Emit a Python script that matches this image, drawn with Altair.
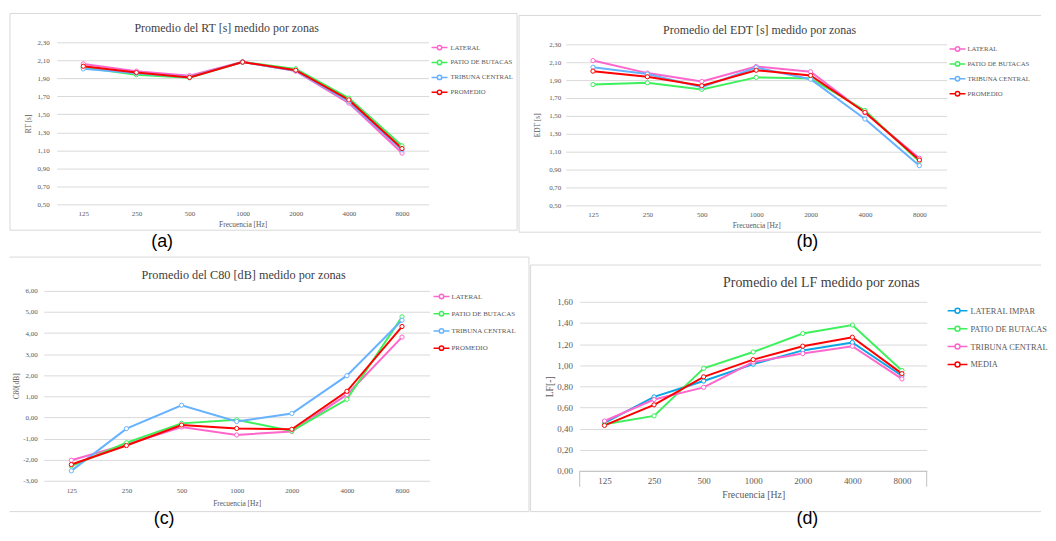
import altair as alt
import pandas as pd

FRECUENCIAS = ["125", "250", "500", "1000", "2000", "4000", "8000"]

ZONAS_ABC = ["LATERAL", "PATIO DE BUTACAS", "TRIBUNA CENTRAL", "PROMEDIO"]
ZONAS_D = ["LATERAL IMPAR", "PATIO DE BUTACAS", "TRIBUNA CENTRAL", "MEDIA"]

# (a) RT [s]
RT_LATERAL = [2.06, 1.98, 1.93, 2.085, 1.98, 1.625, 1.07]
RT_PATIO = [2.02, 1.94, 1.905, 2.08, 2.005, 1.68, 1.15]
RT_TRIBUNA = [2.005, 1.957, 1.915, 2.08, 1.985, 1.64, 1.105]
RT_PROMEDIO = [2.034, 1.964, 1.91, 2.08, 1.99, 1.66, 1.12]

# (b) EDT [s]
EDT_LATERAL = [2.118, 1.978, 1.885, 2.052, 1.993, 1.535, 1.026]
EDT_PATIO = [1.85, 1.87, 1.796, 1.93, 1.918, 1.56, 0.99]
EDT_TRIBUNA = [2.044, 1.967, 1.82, 2.04, 1.91, 1.465, 0.944]
EDT_PROMEDIO = [2.0, 1.937, 1.837, 2.01, 1.952, 1.54, 1.007]

# (c) C80 [dB]
C80_LATERAL = [-2.03, -1.28, -0.45, -0.83, -0.66, 1.08, 3.81]
C80_PATIO = [-2.3, -1.2, -0.28, -0.11, -0.64, 0.86, 4.77]
C80_TRIBUNA = [-2.53, -0.53, 0.58, -0.19, 0.19, 1.98, 4.61]
C80_PROMEDIO = [-2.23, -1.33, -0.36, -0.52, -0.56, 1.24, 4.31]

# (d) LF [-]
LF_LATERAL_IMPAR = [0.455, 0.70, 0.85, 1.01, 1.14, 1.215, 0.90]
LF_PATIO = [0.44, 0.52, 0.97, 1.125, 1.30, 1.38, 0.95]
LF_TRIBUNA = [0.472, 0.675, 0.79, 1.03, 1.11, 1.18, 0.87]
LF_MEDIA = [0.43, 0.625, 0.89, 1.053, 1.18, 1.265, 0.92]

TICKS_RT = [0.5, 0.7, 0.9, 1.1, 1.3, 1.5, 1.7, 1.9, 2.1, 2.3]
TICKS_C80 = [-3, -2, -1, 0, 1, 2, 3, 4, 5, 6]
TICKS_LF = [0.0, 0.2, 0.4, 0.6, 0.8, 1.0, 1.2, 1.4, 1.6]

COLORES_ABC = ["#ff66cc", "#3df05c", "#66b2ff", "#ff0000"]
COLORES_D = ["#0aa5e6", "#3df05c", "#ff66cc", "#ff0000"]

FRAME = "#d9d9d9"
SERIF = "Liberation Serif"
LBL = "replace(replace(format(datum.value, '.2f'), '.', ','), '\u2212', '-')"
ONE = pd.DataFrame({"k": [0]})


def hrule(y, x1, x2, color=FRAME, opacity=1.0):
    return alt.Chart(ONE).mark_rule(color=color, strokeWidth=1, opacity=opacity).encode(
        x=alt.value(x1), x2=alt.value(x2), y=alt.value(y))


def vrule(x, y1, y2, color=FRAME, opacity=1.0):
    return alt.Chart(ONE).mark_rule(color=color, strokeWidth=1, opacity=opacity).encode(
        x=alt.value(x), y=alt.value(y1), y2=alt.value(y2))


def label(text, x, y, size, font=SERIF, color="#000000"):
    return alt.Chart(ONE).mark_text(text=text, font=font, fontSize=size, color=color,
                                    align="center", baseline="middle").encode(
        x=alt.value(x), y=alt.value(y))


def sym_path(half, r):
    return (f"M-{half},0L-{r},0M{r},0L{half},0"
            f"M{r},0A{r},{r},0,1,1,-{r},0A{r},{r},0,1,1,{r},0")


def panel(c):
    rows = [{"zona": z, "freq": f, "valor": v}
            for z, vals in zip(c["zonas"], c["series"])
            for f, v in zip(FRECUENCIAS, vals)]
    df = pd.DataFrame(rows)
    x = alt.X("freq:N", sort=FRECUENCIAS, scale=alt.Scale(type="point", padding=0.5),
              axis=alt.Axis(title="Frecuencia [Hz]", labelAngle=0, ticks=False,
                            domain=c["domain"], domainColor="#bfbfbf", grid=False,
                            labelFontSize=c["tick"], labelPadding=c["xlp"],
                            titleFontSize=c["atitle"], titlePadding=c["xtp"]))
    y = alt.Y("valor:Q", scale=alt.Scale(domain=c["ydom"], range=[c["h"], c["top"]], nice=False, zero=False),
              axis=alt.Axis(title=c["ytitle"], values=c["yticks"], labelExpr=LBL, ticks=False,
                            domain=False, grid=True, labelFontSize=c["tick"],
                            labelPadding=c["ylp"], titleFontSize=c["atitle"],
                            titlePadding=c["ytp"]))
    color = alt.Color("zona:N", scale=alt.Scale(domain=c["zonas"], range=c["colores"]),
                      legend=alt.Legend(orient="none", legendX=c["lx"], legendY=c["ly"],
                                        title=None, padding=0, symbolType=c["sym"],
                                        symbolSize=100, symbolStrokeWidth=1.5,
                                        labelFontSize=c["lfs"], labelOffset=c["loff"],
                                        labelLimit=c["llim"],
                                        rowPadding=c["rp"], labelFont=SERIF,
                                        labelColor="#595959"))
    base = alt.Chart(df).encode(x=x, y=y, color=color)
    lines = base.mark_line(strokeWidth=2)
    pts = base.mark_point(shape="circle", filled=False, fill="white", fillOpacity=1,
                          size=18, strokeWidth=1, opacity=1)
    cap = label(c["cap"], c["capx"], c["capy"], 18, font="Liberation Sans")
    ttl = label(c["title"], c["tx"], c["ty"], c["tfs"], color="#404040")
    layers = list(c["deco"]) + [ttl, lines, pts, cap]
    return alt.layer(*layers).properties(width=c["w"], height=c["h"])


pa = panel(dict(
    zonas=ZONAS_ABC, series=[RT_LATERAL, RT_PATIO, RT_TRIBUNA, RT_PROMEDIO],
    colores=COLORES_ABC, w=374, h=163, top=0, ydom=[0.5, 2.3], yticks=TICKS_RT,
    ytitle="RT [s]", domain=False, tick=7, atitle=7.5, xlp=5, xtp=4, ylp=7.5, ytp=5,
    lx=379, ly=-0.7, sym=sym_path(1.6, 0.44), lfs=6.8, loff=5, rp=3, llim=160,
    cap="(a)", capx=106, capy=201,
    title="Promedio del RT [s] medido por zonas", tfs=12, tx=171, ty=-14,
    deco=[hrule(-29, -47, 463), hrule(189, -47, 463), vrule(-47, -29, 189), vrule(463, -29, 189),
          hrule(-32.5, 0, 10, opacity=0), hrule(215, 0, 10, opacity=0)]))

pb = panel(dict(
    zonas=ZONAS_ABC, series=[EDT_LATERAL, EDT_PATIO, EDT_TRIBUNA, EDT_PROMEDIO],
    colores=COLORES_ABC, w=383, h=164, top=2, ydom=[0.5, 2.3], yticks=TICKS_RT,
    ytitle="EDT [s]", domain=False, tick=7, atitle=7.5, xlp=5.5, xtp=4, ylp=5, ytp=7.5,
    lx=388, ly=0.7, sym=sym_path(1.6, 0.44), lfs=6.8, loff=4, rp=3, llim=160,
    cap="(b)", capx=243, capy=201,
    title="Promedio del EDT [s] medido por zonas", tfs=12, tx=195, ty=-12,
    deco=[hrule(-27, -47, 478), hrule(191, -47, 478), vrule(-47, -27, 191)]))

pc = panel(dict(
    zonas=ZONAS_ABC, series=[C80_LATERAL, C80_PATIO, C80_TRIBUNA, C80_PROMEDIO],
    colores=COLORES_ABC, w=388, h=191, top=0, ydom=[-3, 6], yticks=TICKS_C80,
    ytitle="C80[dB]", domain=False, tick=7, atitle=7.5, xlp=6, xtp=6, ylp=6.6, ytp=2,
    lx=394, ly=-0.3, sym=sym_path(1.6, 0.44), lfs=7, loff=4, rp=5.3, llim=160,
    cap="(c)", capx=121, capy=229,
    title="Promedio del C80 [dB] medido por zonas", tfs=12.3, tx=201, ty=-16,
    deco=[hrule(-34, -34.4, 488), hrule(222, -34.4, 488), vrule(488, -34, 222)]))

pd_ = panel(dict(
    zonas=ZONAS_D, series=[LF_LATERAL_IMPAR, LF_PATIO, LF_TRIBUNA, LF_MEDIA],
    colores=COLORES_D, w=349, h=181, top=11, ydom=[0, 1.6], yticks=TICKS_LF,
    ytitle="LF[-]", domain=True, tick=9, atitle=9.8, xlp=6, xtp=3.7, ylp=7.3, ytp=2.7,
    lx=374, ly=14, sym=sym_path(2.0, 0.5), lfs=8.4, loff=7, rp=6, llim=80,
    cap="(d)", capx=229, capy=229,
    title="Promedio del LF medido por zonas", tfs=14, tx=243, ty=-8,
    deco=[hrule(-26, -49.4, 464), hrule(222, -49.4, 464), vrule(-49.4, -26, 222),
          vrule(0, 181, 197, color="#bfbfbf"), vrule(349, 181, 197, color="#bfbfbf")]))


def spacer():
    return alt.Chart(ONE).mark_rule(opacity=0).encode(
        x=alt.value(0.5), y=alt.value(0), y2=alt.value(1)).properties(width=1, height=1)


def indep(ch):
    return ch.resolve_scale(x="independent", y="independent", color="independent").resolve_legend(
        color="independent")


row1 = indep(alt.hconcat(spacer(), pa, pb, spacing=0))
row2 = indep(alt.hconcat(spacer(), pc, pd_, spacing=0))

chart = indep(alt.vconcat(row1, row2, spacing=0)).properties(
    padding=0, background="white"
).configure_axis(
    labelFont=SERIF, titleFont=SERIF, labelColor="#595959", titleColor="#595959",
    titleFontWeight="normal", gridColor="#d9d9d9", gridWidth=1
).configure_legend(
    labelFont=SERIF, labelColor="#595959"
).configure_view(stroke=None)

chart.save("out.html", embed_options={"renderer": "svg", "actions": False})
